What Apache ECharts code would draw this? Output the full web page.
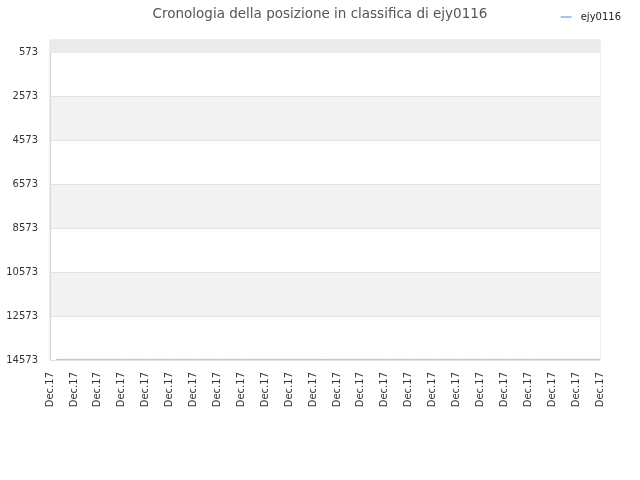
<!DOCTYPE html>
<html>
<head>
<meta charset="utf-8">
<script src="https://cdn.jsdelivr.net/npm/echarts@6/dist/echarts.min.js"></script>
<style>html,body{margin:0;padding:0;background:#fff}#c{width:640px;height:480px}</style>
</head>
<body>
<div id="c"></div>
<script>
var titleText = 'Cronologia della posizione in classifica di ejy0116';
var seriesName = 'ejy0116';
var categories = [
'Dec.17','Dec.17','Dec.17','Dec.17','Dec.17','Dec.17','Dec.17','Dec.17','Dec.17','Dec.17',
'Dec.17','Dec.17','Dec.17','Dec.17','Dec.17','Dec.17','Dec.17','Dec.17','Dec.17','Dec.17',
'Dec.17','Dec.17','Dec.17','Dec.17','Dec.17','Dec.17','Dec.17','Dec.17','Dec.17','Dec.17',
'Dec.17','Dec.17','Dec.17','Dec.17','Dec.17','Dec.17','Dec.17','Dec.17','Dec.17','Dec.17',
'Dec.17','Dec.17','Dec.17','Dec.17','Dec.17','Dec.17','Dec.17','Dec.17','Dec.17','Dec.17',
'Dec.17','Dec.17','Dec.17','Dec.17','Dec.17','Dec.17','Dec.17','Dec.17','Dec.17','Dec.17',
'Dec.17','Dec.17','Dec.17','Dec.17','Dec.17','Dec.17','Dec.17','Dec.17','Dec.17','Dec.17',
'Dec.17','Dec.17','Dec.17','Dec.17','Dec.17','Dec.17','Dec.17','Dec.17','Dec.17','Dec.17',
'Dec.17','Dec.17','Dec.17','Dec.17','Dec.17','Dec.17','Dec.17','Dec.17','Dec.17','Dec.17',
'Dec.17','Dec.17','Dec.17'
];
var values = [
null,14545,14545,14545,14545,14545,14545,14545,14545,14545,
14545,14545,14545,14545,14545,14545,14545,14545,14545,14545,
14545,14545,14545,14545,14545,14545,14545,14545,14545,14545,
14545,14545,14545,14545,14545,14545,14545,14545,14545,14545,
14545,14545,14545,14545,14545,14545,14545,14545,14545,14545,
14545,14545,14545,14545,14545,14545,14545,14545,14545,14545,
14545,14545,14545,14545,14545,14545,14545,14545,14545,14545,
14545,14545,14545,14545,14545,14545,14545,14545,14545,14545,
14545,14545,14545,14545,14545,14545,14545,14545,14545,14545,
14545,14545,14545
];
var yTickValues = [573, 2573, 4573, 6573, 8573, 10573, 12573, 14573];
var yMin = 0;
var yMax = 14573;

var chart = echarts.init(document.getElementById('c'), null, {renderer: 'canvas'});
chart.setOption({
  animation: false,
  textStyle: {fontFamily: 'DejaVu Sans'},
  title: {
    text: titleText,
    left: 'center',
    top: 2,
    textStyle: {fontSize: 13.5, fontWeight: 'normal', color: '#555', fontFamily: 'DejaVu Sans'}
  },
  legend: {
    data: [seriesName],
    right: 14,
    top: 7,
    icon: 'rect',
    itemWidth: 11,
    itemHeight: 2,
    textStyle: {fontSize: 10, color: '#222', fontFamily: 'DejaVu Sans', padding: [0, 0, 0, 4]}
  },
  grid: {
    left: 50, right: 40, top: 40, bottom: 120,
    outerBoundsMode: 'none',
    containLabel: false,
    show: true,
    borderColor: '#dddddd',
    borderWidth: 1,
    backgroundColor: 'transparent'
  },
  xAxis: {
    type: 'category',
    data: categories,
    boundaryGap: false,
    axisLine: {show: true, lineStyle: {color: '#cccccc'}},
    axisTick: {show: false},
    splitLine: {show: false},
    axisLabel: {
      interval: 3,
      rotate: 90,
      fontSize: 10,
      color: '#333',
      margin: 12,
      fontFamily: 'DejaVu Sans'
    }
  },
  yAxis: {
    type: 'value',
    inverse: true,
    min: yMin,
    max: yMax,
    axisLine: {show: true, lineStyle: {color: '#d8d8d8'}},
    axisTick: {show: false, customValues: [yMin].concat(yTickValues)},
    axisLabel: {
      customValues: yTickValues,
      formatter: function (v) { return String(v); },
      fontSize: 10, color: '#333', margin: 12, fontFamily: 'DejaVu Sans'
    },
    splitLine: {show: true, lineStyle: {color: '#e2e2e2'}},
    splitArea: {show: true, areaStyle: {color: ['#f2f2f2', '#ffffff']}}
  },
  series: [{
    name: seriesName,
    type: 'line',
    data: values,
    showSymbol: false,
    symbol: 'none',
    lineStyle: {color: '#9ac6ef', width: 1},
    itemStyle: {color: '#9ac6ef'},
    markArea: {
      silent: true,
      itemStyle: {color: '#ebebeb'},
      data: [[{yAxis: yMin}, {yAxis: yTickValues[0]}]]
    }
  }]
});
</script>
</body>
</html>
